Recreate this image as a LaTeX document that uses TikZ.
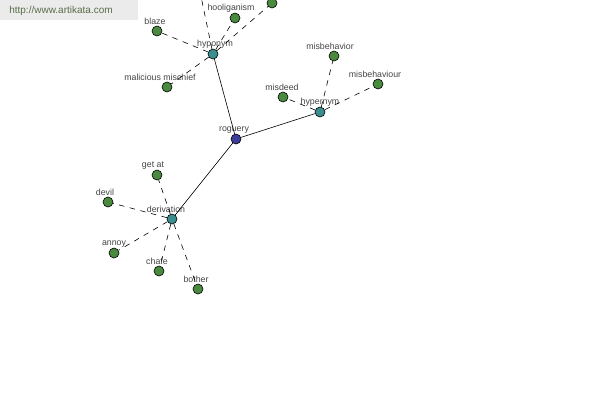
\documentclass[tikz,border=0pt]{standalone}
\usepackage{fontspec}
\setmainfont{Liberation Sans}
\usetikzlibrary{positioning}
\definecolor{wnRoot}{HTML}{3C3C9A}
\definecolor{wnRel}{HTML}{3A8E8E}
\definecolor{wnWord}{HTML}{4A8A3E}
\definecolor{wnText}{HTML}{454545}
\definecolor{wnMark}{HTML}{5A6E4A}
\tikzset{
  wnnode/.style={circle, draw=black, line width=0.6pt, minimum size=10pt,
                 inner sep=0pt},
  wnlab/.style={font=\fontsize{8.8}{10}\selectfont, text=wnText, inner sep=0.5pt},
  wnlink/.style={draw=black, line width=0.6pt},
  wnleaf/.style={draw=black, line width=0.6pt, dash pattern=on 5.5pt off 5.5pt},
}

\begin{document}
\begin{tikzpicture}[x=1pt, y=-1pt]
  \useasboundingbox (0,0) rectangle (600,400);
  \clip (0,0) rectangle (600,400);
  \fill[white] (0,0) rectangle (600,400);
  % watermark
  \fill[black!8] (0,0) rectangle (138,20);
  \node[font=\fontsize{10}{11}\selectfont, text=wnMark, inner sep=0pt] (mark) at (61,11) {http://www.artikata.com};
  % centre and relation nodes
  \node[wnnode, fill=wnRoot, label={[wnlab, xshift=-2pt]above:roguery}] (R) at (236,139) {};
  \node[wnnode, fill=wnRel, label={[wnlab, xshift=2pt]above:hyponym}] (HO) at (213,54) {};
  \node[wnnode, fill=wnRel, label={[wnlab]above:hypernym}] (HE) at (320,112) {};
  \node[wnnode, fill=wnRel, label={[wnlab, xshift=-6pt]above:derivation}] (D) at (172,219) {};
  % words
  \node[wnnode, fill=wnWord] (w1) at (198,-18) {};
  \node[wnnode, fill=wnWord] (w2) at (272,3) {};
  \node[wnnode, fill=wnWord, label={[wnlab, xshift=-4pt]above:hooliganism}] (w3) at (235,18) {};
  \node[wnnode, fill=wnWord, label={[wnlab, xshift=-2pt]above:blaze}] (w4) at (157,31) {};
  \node[wnnode, fill=wnWord, label={[wnlab, xshift=-7pt]above:malicious mischief}] (w5) at (167,87) {};
  \node[wnnode, fill=wnWord, label={[wnlab, xshift=-1pt]above:misdeed}] (w6) at (283,97) {};
  \node[wnnode, fill=wnWord, label={[wnlab, xshift=-4pt]above:misbehavior}] (w7) at (334,56) {};
  \node[wnnode, fill=wnWord, label={[wnlab, xshift=-3pt]above:misbehaviour}] (w8) at (378,84) {};
  \node[wnnode, fill=wnWord, label={[wnlab, xshift=-4pt]above:get at}] (w9) at (157,175) {};
  \node[wnnode, fill=wnWord, label={[wnlab, xshift=-3pt]above:devil}] (w10) at (108,202) {};
  \node[wnnode, fill=wnWord, label={[wnlab]above:annoy}] (w11) at (114,253) {};
  \node[wnnode, fill=wnWord, label={[wnlab, xshift=-2pt]above:chafe}] (w12) at (159,271) {};
  \node[wnnode, fill=wnWord, label={[wnlab, xshift=-2pt]above:bother}] (w13) at (198,289) {};
  % links
  \draw[wnlink] (R) -- (HO);
  \draw[wnlink] (R) -- (HE);
  \draw[wnlink] (R) -- (D);
  \foreach \w in {w1,w2,w3,w4,w5}
    \draw[wnleaf] (HO) -- (\w);
  \foreach \w in {w6,w7,w8}
    \draw[wnleaf] (HE) -- (\w);
  \foreach \w in {w9,w10,w11,w12,w13}
    \draw[wnleaf] (D) -- (\w);
\end{tikzpicture}
\end{document}
